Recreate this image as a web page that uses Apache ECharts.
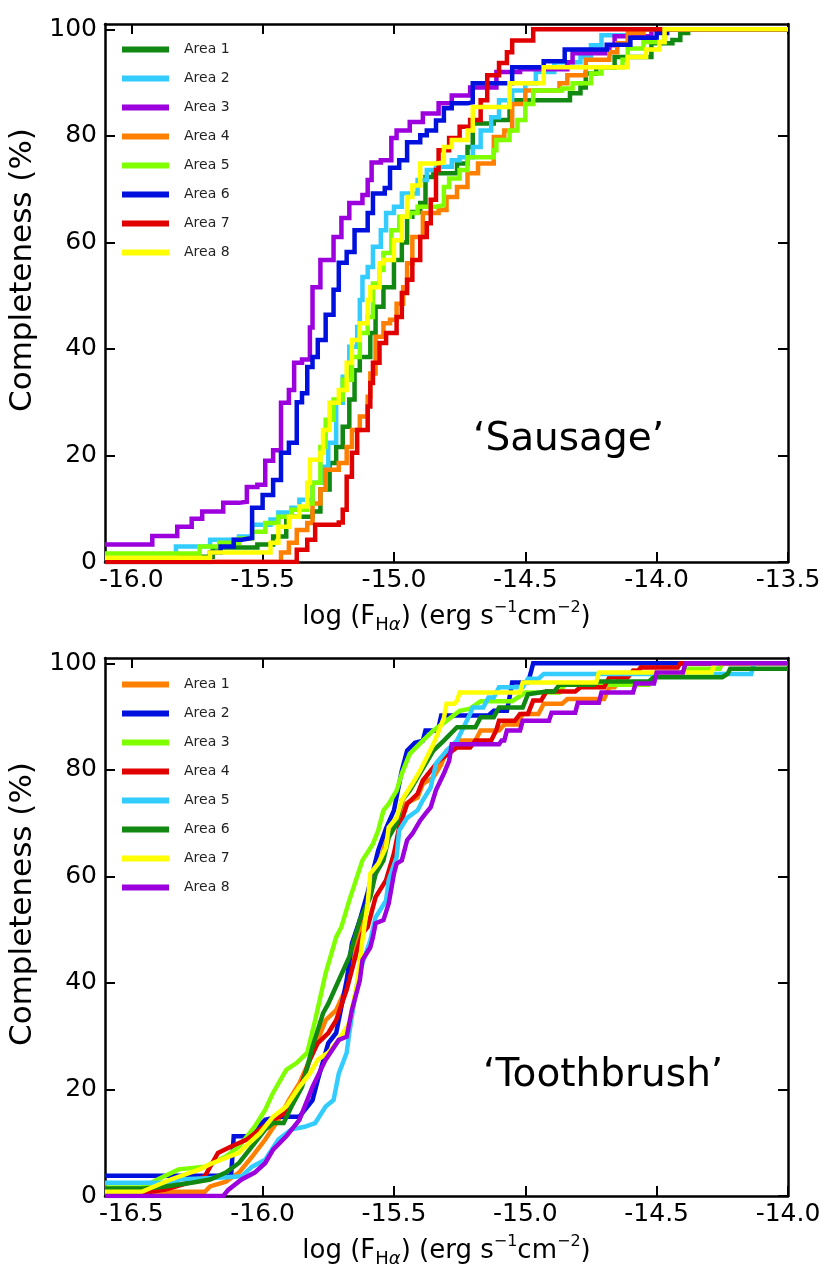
<!DOCTYPE html>
<html><head><meta charset="utf-8">
<script src="https://cdn.jsdelivr.net/npm/echarts@6/dist/echarts.min.js"></script>
<style>html,body{margin:0;padding:0;background:#fff}#c{width:825px;height:1266px}</style>
</head><body><div id="c"></div>
<script>
// ---------- labels / ticks ----------
const areaNames = ['Area 1','Area 2','Area 3','Area 4','Area 5','Area 6','Area 7','Area 8'];
const sausageXTicks = [-16.0,-15.5,-15.0,-14.5,-14.0,-13.5];
const toothbrushXTicks = [-16.5,-16.0,-15.5,-15.0,-14.5,-14.0];
const yTicks = [0,20,40,60,80,100];
const sausageColors = ['#118811','#33ccff','#9b00dd','#ff8000','#80ff00','#0011dd','#e00000','#ffff00'];
const toothbrushColors = ['#ff8000','#0011dd','#80ff00','#e00000','#33ccff','#118811','#ffff00','#9b00dd'];

// ---------- 'Sausage' completeness curves (step points) [log F, %] ----------
const sausageArea1 = [[-16.1,1],[-15.69,2.7],[-15.52,3.3],[-15.46,4.8],[-15.41,8.5],[-15.31,9.5],[-15.28,13.6],[-15.245,18.6],[-15.22,21.6],[-15.195,25.4],[-15.17,30.5],[-15.15,36],[-15.13,38.5],[-15.09,43],[-15.07,47.9],[-15.04,51.6],[-15.0,56.7],[-14.97,60],[-14.95,64.8],[-14.93,65.7],[-14.9,67.4],[-14.88,72.3],[-14.85,73],[-14.76,74.8],[-14.72,77.9],[-14.70,82.3],[-14.62,83],[-14.56,86.7],[-14.33,88],[-14.29,89.1],[-14.27,91.7],[-14.23,92.9],[-14.16,94.8],[-14.02,97.4],[-13.94,98],[-13.91,99.3],[-13.88,100],[-13.5,100]];
const sausageArea2 = [[-16.1,1.4],[-15.83,2.9],[-15.7,4.2],[-15.59,4.8],[-15.54,7],[-15.47,8],[-15.44,9.3],[-15.39,10.2],[-15.36,11.7],[-15.31,14.9],[-15.27,17.9],[-15.25,22.4],[-15.22,29.9],[-15.195,34.8],[-15.17,40.4],[-15.14,44.1],[-15.13,49.2],[-15.12,53.5],[-15.1,55.4],[-15.08,59.2],[-15.05,62.3],[-15.03,65.5],[-15.0,66.7],[-14.97,69.2],[-14.91,71.7],[-14.875,73.6],[-14.84,74.2],[-14.78,75.4],[-14.75,76],[-14.7,77.9],[-14.67,81],[-14.63,83.5],[-14.6,86.7],[-14.55,88.5],[-14.5,89.9],[-14.46,92],[-14.39,93.8],[-14.29,94.8],[-14.25,97],[-14.21,98.9],[-14.08,100],[-13.5,100]];
const sausageArea3 = [[-16.1,3.3],[-15.92,4.9],[-15.825,6.6],[-15.77,8.1],[-15.73,9.5],[-15.65,11.1],[-15.59,11.3],[-15.56,14.1],[-15.52,14.5],[-15.49,19],[-15.46,21],[-15.43,29.9],[-15.40,32.3],[-15.38,37.4],[-15.35,38],[-15.32,44],[-15.31,51.6],[-15.28,56.7],[-15.23,61],[-15.2,64.6],[-15.17,67.4],[-15.12,68.9],[-15.10,71.7],[-15.085,75],[-15.05,75.4],[-15.01,79.6],[-14.99,81],[-14.94,82.6],[-14.89,84.2],[-14.83,86.1],[-14.78,87.6],[-14.71,89.1],[-14.61,92],[-14.52,92.5],[-14.34,93.8],[-14.32,95.5],[-14.18,97],[-14.16,98.7],[-14.02,100],[-13.5,100]];
const sausageArea4 = [[-16.1,0],[-15.43,1.8],[-15.40,3.6],[-15.37,6],[-15.33,7.3],[-15.31,11],[-15.28,13.6],[-15.26,17.3],[-15.21,18.6],[-15.18,21.6],[-15.16,24.8],[-15.13,27.3],[-15.1,31],[-15.09,35.4],[-15.07,42.3],[-15.04,44.8],[-15.015,45.5],[-14.99,48.5],[-14.965,51.6],[-14.95,56.1],[-14.93,61],[-14.89,65.5],[-14.83,66.1],[-14.8,68.5],[-14.76,70.4],[-14.72,73],[-14.68,74.8],[-14.62,79.8],[-14.58,81],[-14.55,86],[-14.5,88.5],[-14.37,89.9],[-14.34,91.4],[-14.27,94.3],[-14.18,95.7],[-14.15,97.4],[-14.11,99.3],[-14.05,100],[-13.5,100]];
const sausageArea5 = [[-16.1,1.6],[-15.74,2.9],[-15.665,3.6],[-15.59,4.4],[-15.54,5.7],[-15.49,7.3],[-15.44,8.5],[-15.39,9.8],[-15.33,11],[-15.31,14.9],[-15.28,21.6],[-15.26,26.7],[-15.23,30.5],[-15.195,34.2],[-15.16,38.5],[-15.13,43],[-15.1,46],[-15.08,52.3],[-15.055,54.8],[-15.04,58],[-15.01,62.3],[-14.98,64.8],[-14.94,65.5],[-14.91,66.7],[-14.84,67],[-14.81,70.4],[-14.79,72],[-14.75,73.6],[-14.72,76],[-14.62,77.3],[-14.61,79.2],[-14.56,81],[-14.53,83],[-14.5,86],[-14.47,88.5],[-14.36,88.9],[-14.32,89.9],[-14.25,91.7],[-14.21,92.9],[-14.13,94.3],[-14.11,96.4],[-14.05,97.6],[-13.97,100],[-13.5,100]];
const sausageArea6 = [[-16.1,0],[-15.70,1.8],[-15.66,2.9],[-15.61,4.2],[-15.58,4.5],[-15.54,10.2],[-15.5,12.6],[-15.46,15.4],[-15.43,20.5],[-15.4,22.4],[-15.37,30],[-15.35,31.7],[-15.33,36.6],[-15.31,38.5],[-15.29,41.7],[-15.26,46.4],[-15.23,51.1],[-15.21,56.2],[-15.18,58.2],[-15.15,62.3],[-15.10,65.5],[-15.08,69.2],[-15.035,70.2],[-15.015,74],[-14.98,75.4],[-14.95,78.8],[-14.9,80.1],[-14.875,81],[-14.84,82.9],[-14.81,85.2],[-14.78,86.1],[-14.72,86.3],[-14.70,89.9],[-14.55,92.9],[-14.43,94],[-14.35,96.2],[-14.19,97.1],[-14.1,98.4],[-14.0,99.3],[-13.96,100],[-13.5,100]];
const sausageArea7 = [[-16.1,0],[-15.37,2.3],[-15.33,4.2],[-15.3,7],[-15.21,7.4],[-15.195,9.8],[-15.18,16],[-15.16,20.5],[-15.14,24.8],[-15.1,29.2],[-15.09,33.6],[-15.08,37.4],[-15.055,41.1],[-15.03,43],[-14.99,46],[-14.97,50.5],[-14.95,53],[-14.93,56.7],[-14.9,61],[-14.875,63.6],[-14.86,68],[-14.84,73.6],[-14.83,77.3],[-14.79,79.6],[-14.75,81.7],[-14.71,83],[-14.67,86.7],[-14.645,91.4],[-14.6,93.7],[-14.57,95.7],[-14.55,97.9],[-14.47,100],[-13.5,100]];
const sausageArea8 = [[-16.1,0.8],[-15.7,1.8],[-15.47,3.6],[-15.44,6.6],[-15.40,8.5],[-15.36,10.4],[-15.33,14.9],[-15.32,19.2],[-15.28,20.5],[-15.27,24.8],[-15.245,29.9],[-15.21,32.3],[-15.18,37.4],[-15.16,41.7],[-15.13,44.8],[-15.1,49.2],[-15.09,51.6],[-15.055,56.1],[-15.04,56.7],[-15.0,60.4],[-14.97,64.8],[-14.95,68.5],[-14.93,70.7],[-14.9,74.8],[-14.84,75],[-14.81,77.9],[-14.78,79.2],[-14.72,81],[-14.70,85.4],[-14.56,89.9],[-14.43,92.9],[-14.11,94.8],[-14.04,96.2],[-13.99,97.6],[-13.97,100],[-13.5,100]];

// ---------- 'Toothbrush' completeness curves (polyline vertices) [log F, %] ----------
const toothbrushArea1 = [[-16.6,0.8],[-16.22,0.8],[-16.2,1.8],[-16.14,2.7],[-16.09,4.4],[-16.04,7.4],[-15.99,10.6],[-15.94,14.3],[-15.9,18],[-15.86,21.2],[-15.82,25.6],[-15.8,28],[-15.76,33],[-15.72,34.9],[-15.68,39.2],[-15.64,47.4],[-15.62,51.8],[-15.6,56],[-15.56,62],[-15.52,68],[-15.46,73.6],[-15.41,74.8],[-15.39,77.4],[-15.35,78.6],[-15.32,81],[-15.3,83.6],[-15.25,85.5],[-15.19,85.5],[-15.17,87.4],[-15.1,87.4],[-15.08,88.5],[-15.03,88.5],[-15.01,90.5],[-14.95,90.5],[-14.93,92.4],[-14.86,92.4],[-14.84,93.3],[-14.7,93.3],[-14.68,95.5],[-14.66,95.5],[-14.64,97.4],[-14.61,97.4],[-14.59,98.6],[-14.57,98.6],[-14.55,100],[-14.0,100]];
const toothbrushArea2 = [[-16.6,3.8],[-16.12,3.8],[-16.11,11.2],[-16.05,11.2],[-15.99,14.3],[-15.94,14.9],[-15.86,14.9],[-15.81,18],[-15.79,21.8],[-15.75,28.7],[-15.72,30.6],[-15.68,40.5],[-15.66,47.4],[-15.63,51.8],[-15.6,57],[-15.56,64.9],[-15.53,69],[-15.5,72.4],[-15.47,79.9],[-15.45,83.6],[-15.42,85.1],[-15.39,85.5],[-15.38,87.4],[-15.34,87.4],[-15.33,88],[-15.32,90.2],[-15.14,90.2],[-15.12,91.1],[-15.07,91.1],[-15.06,93.6],[-15.05,96.4],[-14.99,96.4],[-14.98,98.1],[-14.97,100],[-14.0,100]];
const toothbrushArea3 = [[-16.6,1.6],[-16.46,1.6],[-16.4,3.1],[-16.32,5],[-16.22,5.5],[-16.14,7.4],[-16.09,9.3],[-16.03,13],[-15.99,16.2],[-15.96,19.4],[-15.91,23.7],[-15.87,25],[-15.83,26.9],[-15.8,33],[-15.76,41.8],[-15.72,48.6],[-15.7,50.5],[-15.67,55.5],[-15.62,63],[-15.58,66.1],[-15.56,68.6],[-15.54,72.4],[-15.52,73.6],[-15.49,76.1],[-15.47,79.3],[-15.44,83],[-15.39,85.5],[-15.35,87.4],[-15.3,89.2],[-15.25,91.1],[-15.21,91.5],[-15.17,92.9],[-15.05,92.9],[-15.0,94.5],[-14.87,94.5],[-14.85,96],[-14.53,96],[-14.51,98],[-14.4,98],[-14.38,99],[-14.26,99],[-14.25,100],[-14.0,100]];
const toothbrushArea4 = [[-16.6,0.6],[-16.45,0.6],[-16.37,1.2],[-16.28,2.5],[-16.22,3.7],[-16.17,8.1],[-16.12,9.3],[-16.06,10.6],[-16.01,12.5],[-15.96,14.3],[-15.91,15.6],[-15.86,19.9],[-15.82,25.6],[-15.79,28.7],[-15.75,30.6],[-15.72,33],[-15.68,38.7],[-15.64,46.2],[-15.62,49.3],[-15.6,50.5],[-15.57,56.1],[-15.53,59.3],[-15.5,64.3],[-15.48,69.2],[-15.45,73.6],[-15.41,75.5],[-15.39,78],[-15.33,81.7],[-15.26,84.2],[-15.21,84.2],[-15.19,85.5],[-15.13,85.5],[-15.11,87.5],[-15.1,89.2],[-15.04,89.2],[-15.02,90.5],[-14.99,90.5],[-14.97,93],[-14.94,93],[-14.92,94.7],[-14.81,94.7],[-14.79,95.5],[-14.7,95.5],[-14.68,97.4],[-14.61,97.4],[-14.59,98.6],[-14.57,98.6],[-14.56,99.2],[-14.42,99.2],[-14.41,100],[-14.0,100]];
const toothbrushArea5 = [[-16.6,2.5],[-16.33,2.5],[-16.32,3.1],[-16.19,3.4],[-16.08,3.7],[-16.04,5.5],[-15.99,6.8],[-15.94,10.6],[-15.89,12.5],[-15.84,13],[-15.8,13.7],[-15.76,16.8],[-15.73,18],[-15.71,23],[-15.68,26.9],[-15.67,30.6],[-15.64,40],[-15.62,43.7],[-15.59,48],[-15.57,52.3],[-15.53,55.5],[-15.52,59.3],[-15.49,63.6],[-15.48,68.6],[-15.45,71],[-15.41,72.4],[-15.39,74.3],[-15.36,76.7],[-15.34,81.2],[-15.3,83.6],[-15.26,85.5],[-15.21,90.5],[-15.2,91.7],[-15.16,91.7],[-15.14,93.6],[-15.12,93.6],[-15.1,95.5],[-15.01,95.5],[-14.99,97.1],[-14.95,97.1],[-14.93,98],[-14.14,98],[-14.13,100],[-14.0,100]];
const toothbrushArea6 = [[-16.6,1.4],[-16.45,1.4],[-16.37,1.8],[-16.27,2.5],[-16.2,3.1],[-16.14,4.4],[-16.09,6.2],[-16.04,9.3],[-15.99,12.5],[-15.96,13.7],[-15.92,13.7],[-15.89,16.8],[-15.85,20.5],[-15.81,28],[-15.77,34.3],[-15.75,36.1],[-15.71,40.5],[-15.67,44.9],[-15.63,51.8],[-15.59,56.1],[-15.57,60.5],[-15.54,63],[-15.52,67.3],[-15.49,69.9],[-15.47,74.3],[-15.44,76.1],[-15.41,78.6],[-15.35,83.6],[-15.31,85.5],[-15.26,88],[-15.19,88],[-15.17,89.9],[-15.12,89.9],[-15.1,91.7],[-15.01,91.7],[-14.99,94.2],[-14.92,94.7],[-14.89,94.7],[-14.87,96],[-14.74,96],[-14.72,96.6],[-14.53,96.6],[-14.51,97.4],[-14.25,97.4],[-14.23,98],[-14.22,99],[-14.0,99]];
const toothbrushArea7 = [[-16.6,0.8],[-16.46,0.8],[-16.35,3.1],[-16.24,5],[-16.19,6.2],[-16.09,8.1],[-16.05,10],[-16.01,11.8],[-15.96,14.9],[-15.91,16.8],[-15.86,20.5],[-15.82,23],[-15.79,25.6],[-15.75,26.9],[-15.71,29.3],[-15.67,32.5],[-15.64,40],[-15.62,48],[-15.6,54.9],[-15.59,60.5],[-15.56,62.4],[-15.53,65.5],[-15.52,69.2],[-15.49,71],[-15.47,74.3],[-15.43,77.4],[-15.4,79.9],[-15.35,84.8],[-15.31,89.7],[-15.3,92.4],[-15.27,92.4],[-15.26,93],[-15.25,94.5],[-15.02,94.5],[-15.01,96.4],[-14.73,96.4],[-14.72,98.3],[-14.29,98.3],[-14.28,100],[-14.0,100]];
const toothbrushArea8 = [[-16.6,0],[-16.15,0],[-16.13,1.2],[-16.08,3.1],[-16.03,4.4],[-15.99,6.2],[-15.96,8.7],[-15.91,11.2],[-15.86,14.3],[-15.81,20.5],[-15.76,25.6],[-15.71,29.3],[-15.68,29.9],[-15.66,34.9],[-15.63,40.5],[-15.62,44.3],[-15.59,46.7],[-15.58,48.6],[-15.57,51.2],[-15.54,51.8],[-15.52,54.9],[-15.5,60.5],[-15.49,62.4],[-15.47,63],[-15.45,66.8],[-15.43,68],[-15.4,70.5],[-15.38,71.8],[-15.36,73],[-15.34,76.2],[-15.31,79.3],[-15.29,81.7],[-15.28,84.8],[-15.1,84.8],[-15.09,85.5],[-15.08,85.5],[-15.07,87.4],[-15.02,87.4],[-15.01,89.2],[-14.91,89.2],[-14.9,90.7],[-14.81,90.7],[-14.8,92.6],[-14.72,92.6],[-14.71,94.5],[-14.59,94.5],[-14.58,96.2],[-14.51,96.2],[-14.5,98.3],[-14.4,98.3],[-14.39,100],[-14.0,100]];

const sausageData = [sausageArea1,sausageArea2,sausageArea3,sausageArea4,sausageArea5,sausageArea6,sausageArea7,sausageArea8];
const toothbrushData = [toothbrushArea1,toothbrushArea2,toothbrushArea3,toothbrushArea4,toothbrushArea5,toothbrushArea6,toothbrushArea7,toothbrushArea8];

// ---------- build option ----------
const FONT = 'DejaVu Sans';
const chart = echarts.init(document.getElementById('c'), null, {renderer:'canvas'});

function lineSeries(prefix, name, data, color, axisIdx, step) {
  return {
    type:'line', name: prefix + name, data, step,
    xAxisIndex: axisIdx, yAxisIndex: axisIdx,
    symbol:'none', showSymbol:false, clip:true,
    lineStyle:{width:4.5, color, join:'miter'}, itemStyle:{color},
    emphasis:{disabled:true}, animation:false
  };
}
const series = [];
areaNames.forEach((n,i)=>series.push(lineSeries('S:', n, sausageData[i], sausageColors[i], 0, 'end')));
areaNames.forEach((n,i)=>series.push(lineSeries('T:', n, toothbrushData[i], toothbrushColors[i], 2, false)));

const xNameRich = '{a|log (F}{sub|H}{subi|α}{a|) (erg s}{sup|−1}{a|cm}{sup|−2}{a|)}';
const nameStyle = {
  fontFamily: FONT, fontSize: 26, color:'#000',
  rich:{
    a:{fontFamily:FONT, fontSize:26, lineHeight:34, color:'#000'},
    sub:{fontFamily:FONT, fontSize:18, lineHeight:20, verticalAlign:'bottom', color:'#000'},
    subi:{fontFamily:FONT, fontSize:18, lineHeight:20, fontStyle:'italic', verticalAlign:'bottom', color:'#000'},
    sup:{fontFamily:FONT, fontSize:16, lineHeight:20, verticalAlign:'top', color:'#000'}
  }
};
const axisLineStyle = {show:true, onZero:false, lineStyle:{color:'#000', width:2.5}};

function xAxes(grid, min, max, ticks) {
  const tick = {show:true, inside:true, length:10, lineStyle:{color:'#000', width:2}, customValues: ticks};
  return [
    {type:'value', gridIndex:grid, position:'bottom', min, max,
     axisLine: axisLineStyle, axisTick: tick, splitLine:{show:false},
     axisLabel:{show:true, customValues: ticks, formatter: v => v.toFixed(1),
                fontFamily:FONT, fontSize:25, color:'#000', margin:6},
     name: xNameRich, nameLocation:'middle', nameGap:38, nameTextStyle: nameStyle},
    {type:'value', gridIndex:grid, position:'top', min, max,
     axisLine: axisLineStyle, axisTick: tick, splitLine:{show:false}, axisLabel:{show:false}}
  ];
}
function yAxes(grid) {
  const tick = {show:true, inside:true, length:10, lineStyle:{color:'#000', width:2}, customValues: yTicks};
  return [
    {type:'value', gridIndex:grid, position:'left', min:0, max:101,
     axisLine: axisLineStyle, axisTick: tick, splitLine:{show:false},
     axisLabel:{show:true, customValues: yTicks, fontFamily:FONT, fontSize:25, color:'#000', margin:8},
     name:'Completeness (%)', nameLocation:'middle', nameRotate:90, nameGap:64,
     nameTextStyle:{fontFamily:FONT, fontSize:31, color:'#000', padding:[0,0,0,46]}},
    {type:'value', gridIndex:grid, position:'right', min:0, max:101,
     axisLine: axisLineStyle, axisTick: tick, splitLine:{show:false}, axisLabel:{show:false}}
  ];
}

function legendFor(prefix, top) {
  return {
    data: areaNames.map(n => prefix + n), orient:'vertical', left:122, top,
    icon:'rect', itemWidth:47, itemHeight:6, itemGap:14, padding:0, selectedMode:false,
    formatter: n => n.slice(2),
    textStyle:{fontFamily:FONT, fontSize:14, lineHeight:15, color:'#222', padding:[0,0,0,10]}
  };
}

const option = {
  backgroundColor:'#fff',
  animation:false,
  grid:[
    {left:105, right:37, top:24, height:538, outerBoundsMode:'none', containLabel:false},
    {left:105, right:37, top:658, height:538, outerBoundsMode:'none', containLabel:false}
  ],
  xAxis: [...xAxes(0, -16.1, -13.5, sausageXTicks), ...xAxes(1, -16.6, -14.0, toothbrushXTicks)],
  yAxis: [...yAxes(0), ...yAxes(1)],
  legend: [legendFor('S:', 42), legendFor('T:', 677)],
  series,
  graphic:[
    {type:'text', left:473, top:420, style:{text:'‘Sausage’', fontFamily:FONT, fontSize:39, fill:'#000'}},
    {type:'text', left:483, top:1056, style:{text:'‘Toothbrush’', fontFamily:FONT, fontSize:39, fill:'#000'}}
  ]
};
chart.setOption(option);
</script>
</body></html>
